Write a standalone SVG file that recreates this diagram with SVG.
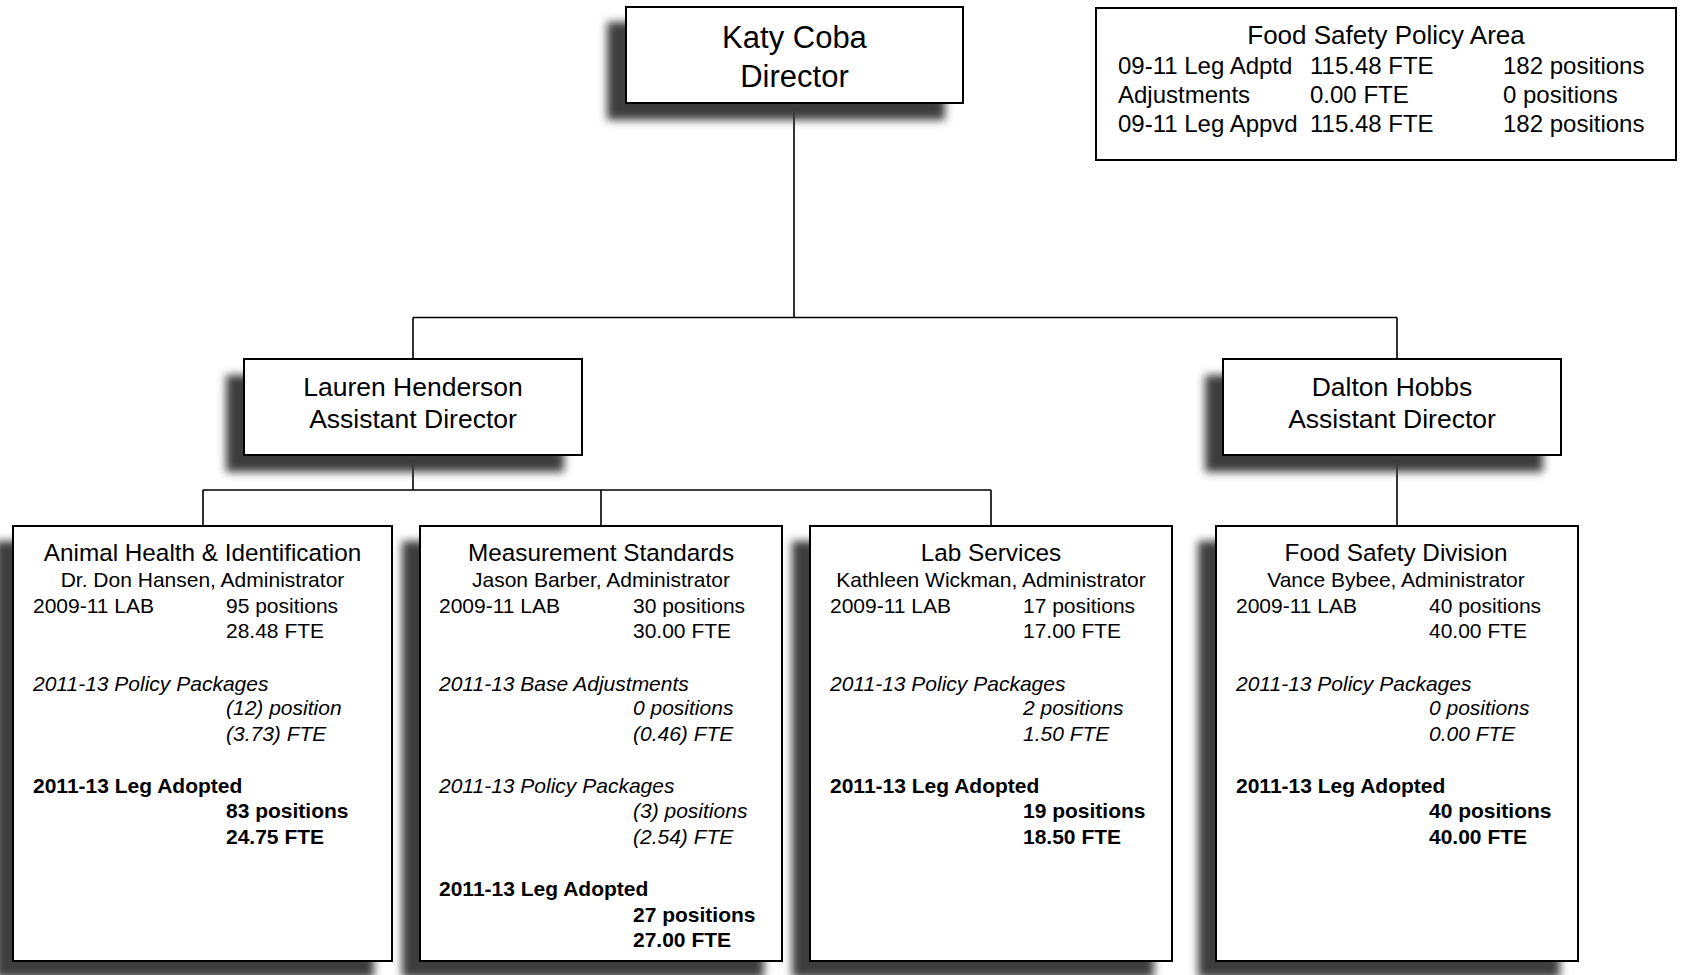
<svg xmlns="http://www.w3.org/2000/svg" width="1682" height="975" viewBox="0 0 1682 975">
<style>
text{font-family:"Liberation Sans",Arial,Helvetica,sans-serif;fill:#000}
.box{fill:#fff;stroke:#000;stroke-width:2}
.sh{fill:#3c3c3c;filter:url(#blur)}
.c{text-anchor:middle}
.dir{font-size:31px}
.ad{font-size:26.5px}
.pt{font-size:26px}
.pr{font-size:24px}
.t{font-size:24.3px}
.b{font-size:21px}
.i{font-style:italic}
.bd{font-weight:bold}
.conn{stroke:#000;stroke-width:1.6;fill:none}
</style>
<defs>
<filter id="blur" x="-20%" y="-30%" width="140%" height="160%"><feGaussianBlur stdDeviation="4.5"/></filter>
</defs>
<rect width="1682" height="975" fill="#fff"/>
<g id="connectors" class="conn">
<path d="M794 103V317.5M413 317.5H1397M413 317.5V359M1397 317.5V359"/>
<path d="M413 455V490M203 490H991M203 490V526M601 490V526M991 490V526"/>
<path d="M1397 455V526"/>
</g>
<g id="director">
<rect class="sh" x="607" y="22" width="338" height="98"/>
<rect class="box" x="626" y="7" width="337" height="96"/>
<text class="dir c" x="794.5" y="48">Katy Coba</text>
<text class="dir c" x="794.5" y="87">Director</text>
</g>
<g id="policy-area">
<rect class="box" x="1096" y="8" width="580" height="152"/>
<text class="pt c" x="1386" y="44">Food Safety Policy Area</text>
<g class="pr">
<text x="1118" y="74">09-11 Leg Adptd</text><text x="1310" y="74">115.48 FTE</text><text x="1503" y="74">182 positions</text>
<text x="1118" y="103">Adjustments</text><text x="1310" y="103">0.00 FTE</text><text x="1503" y="103">0 positions</text>
<text x="1118" y="132">09-11 Leg Appvd</text><text x="1310" y="132">115.48 FTE</text><text x="1503" y="132">182 positions</text>
</g>
</g>
<g id="lauren">
<rect class="sh" x="226" y="375" width="338" height="97"/>
<rect class="box" x="244" y="359" width="338" height="96"/>
<text class="ad c" x="413" y="396">Lauren Henderson</text>
<text class="ad c" x="413" y="428">Assistant Director</text>
</g>
<g id="dalton">
<rect class="sh" x="1205" y="375" width="338" height="97"/>
<rect class="box" x="1223" y="359" width="338" height="96"/>
<text class="ad c" x="1392" y="396">Dalton Hobbs</text>
<text class="ad c" x="1392" y="428">Assistant Director</text>
</g>
<g id="animal-health">
<rect class="sh" x="-5" y="541" width="379" height="437"/>
<rect class="box" x="13" y="526" width="379" height="435"/>
<text class="t c" x="202.5" y="561">Animal Health &amp; Identification</text>
<text class="b c" x="202.5" y="587">Dr. Don Hansen, Administrator</text>
<g class="b">
<text x="33" y="613">2009-11 LAB</text><text x="226" y="613">95 positions</text>
<text x="226" y="638">28.48 FTE</text>
<text class="i" x="33" y="691">2011-13 Policy Packages</text>
<text class="i" x="226" y="715">(12) position</text>
<text class="i" x="226" y="741">(3.73) FTE</text>
<text class="bd" x="33" y="793">2011-13 Leg Adopted</text>
<text class="bd" x="226" y="818">83 positions</text>
<text class="bd" x="226" y="844">24.75 FTE</text>
</g>
</g>
<g id="measurement-standards">
<rect class="sh" x="402" y="541" width="362" height="437"/>
<rect class="box" x="420" y="526" width="362" height="435"/>
<text class="t c" x="601" y="561">Measurement Standards</text>
<text class="b c" x="601" y="587">Jason Barber, Administrator</text>
<g class="b">
<text x="439" y="613">2009-11 LAB</text><text x="633" y="613">30 positions</text>
<text x="633" y="638">30.00 FTE</text>
<text class="i" x="439" y="691">2011-13 Base Adjustments</text>
<text class="i" x="633" y="715">0 positions</text>
<text class="i" x="633" y="741">(0.46) FTE</text>
<text class="i" x="439" y="793">2011-13 Policy Packages</text>
<text class="i" x="633" y="818">(3) positions</text>
<text class="i" x="633" y="844">(2.54) FTE</text>
<text class="bd" x="439" y="896">2011-13 Leg Adopted</text>
<text class="bd" x="633" y="922">27 positions</text>
<text class="bd" x="633" y="947">27.00 FTE</text>
</g>
</g>
<g id="lab-services">
<rect class="sh" x="792" y="541" width="362" height="437"/>
<rect class="box" x="810" y="526" width="362" height="435"/>
<text class="t c" x="991" y="561">Lab Services</text>
<text class="b c" x="991" y="587">Kathleen Wickman, Administrator</text>
<g class="b">
<text x="830" y="613">2009-11 LAB</text><text x="1023" y="613">17 positions</text>
<text x="1023" y="638">17.00 FTE</text>
<text class="i" x="830" y="691">2011-13 Policy Packages</text>
<text class="i" x="1023" y="715">2 positions</text>
<text class="i" x="1023" y="741">1.50 FTE</text>
<text class="bd" x="830" y="793">2011-13 Leg Adopted</text>
<text class="bd" x="1023" y="818">19 positions</text>
<text class="bd" x="1023" y="844">18.50 FTE</text>
</g>
</g>
<g id="food-safety-division">
<rect class="sh" x="1198" y="541" width="362" height="437"/>
<rect class="box" x="1216" y="526" width="362" height="435"/>
<text class="t c" x="1396" y="561">Food Safety Division</text>
<text class="b c" x="1396" y="587">Vance Bybee, Administrator</text>
<g class="b">
<text x="1236" y="613">2009-11 LAB</text><text x="1429" y="613">40 positions</text>
<text x="1429" y="638">40.00 FTE</text>
<text class="i" x="1236" y="691">2011-13 Policy Packages</text>
<text class="i" x="1429" y="715">0 positions</text>
<text class="i" x="1429" y="741">0.00 FTE</text>
<text class="bd" x="1236" y="793">2011-13 Leg Adopted</text>
<text class="bd" x="1429" y="818">40 positions</text>
<text class="bd" x="1429" y="844">40.00 FTE</text>
</g>
</g>
</svg>
